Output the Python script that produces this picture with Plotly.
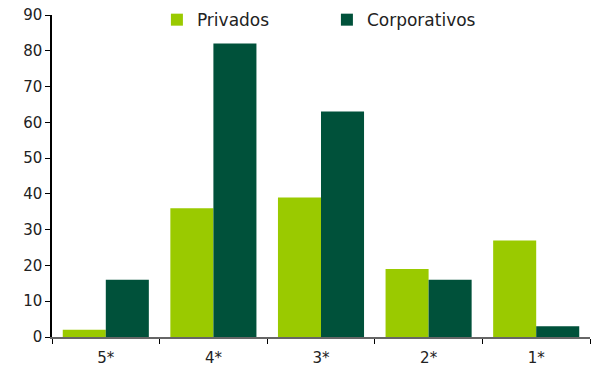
import plotly.graph_objects as go

categories = ["5*", "4*", "3*", "2*", "1*"]
privados = [2, 36, 39, 19, 27]
corporativos = [16, 82, 63, 16, 3]

fig = go.Figure()
fig.add_trace(go.Bar(x=categories, y=privados, name="Privados",
                     marker=dict(color="#9ACA00", line=dict(width=0))))
fig.add_trace(go.Bar(x=categories, y=corporativos, name="Corporativos",
                     marker=dict(color="#00513A", line=dict(width=0))))

fig.update_layout(
    width=598, height=368,
    margin=dict(l=52, r=8, t=15, b=31, autoexpand=False),
    paper_bgcolor="white", plot_bgcolor="white",
    bargap=0.2, bargroupgap=0,
    font=dict(family="DejaVu Sans", size=15, color="#222"),
    showlegend=True,
    legend=dict(orientation="h", x=0.195, y=1.04, xanchor="left", yanchor="top",
                font=dict(size=17), entrywidth=125, entrywidthmode="pixels",
                bgcolor="rgba(0,0,0,0)"),
)
fig.update_yaxes(range=[0, 90], dtick=10, showgrid=False, showline=True, linecolor="black",
                 linewidth=1.5, ticks="outside", ticklen=5, tickcolor="black", zeroline=False,
                 automargin=False)
fig.update_xaxes(showgrid=False, showline=True, linecolor="#666", linewidth=2,
                 ticks="outside", tickson="boundaries", ticklen=5, tickcolor="black",
                 automargin=False, ticklabelstandoff=6)

fig.write_html("out.html", config={"displayModeBar": False},
               post_script="document.body.style.margin='0';document.body.style.overflow='hidden';")
